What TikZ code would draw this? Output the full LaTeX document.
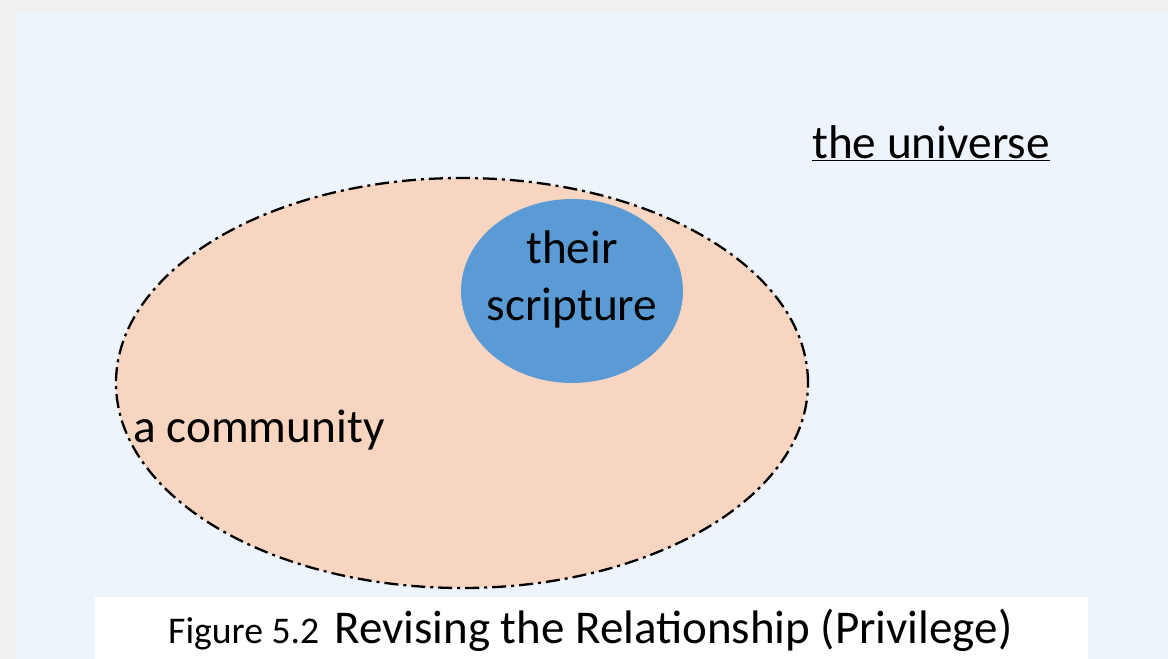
\documentclass[tikz,border=0pt]{standalone}
\usepackage{fontspec}
\setmainfont{Carlito}
\usepackage{tikz}
\usetikzlibrary{shapes.geometric}
\definecolor{paneblue}{HTML}{EEF4FB}
\definecolor{framegray}{HTML}{F0F0F0}
\definecolor{peach}{HTML}{F8D5C0}
\definecolor{scriptblue}{HTML}{5B9BD5}

\tikzset{
  setbox/.style={ellipse, inner sep=0pt},
  bigtext/.style={font=\fontsize{47.3}{52}\selectfont, inner sep=0pt},
  dashdot/.style={draw=black, line width=2.3pt, dash pattern=on 14pt off 5pt on 3pt off 5pt}
}

\begin{document}
\begin{tikzpicture}[x=1pt, y=-1pt]
  \useasboundingbox (0,0) rectangle (1168,659);
  % frame and panel
  \fill[framegray] (0,0) rectangle (1168,659);
  \fill[paneblue] (15,13) rectangle (1168,659);
  \fill[white] (95,597) rectangle (1088,659);

  \node[setbox, dashdot, fill=peach, minimum width=692, minimum height=410] (community) at (462,383) {};
  \node[setbox, fill=scriptblue, minimum width=222, minimum height=184] (scripture) at (572,291) {};
  \node[bigtext, align=center] (scripturetext) at (572,279) {their\\[5pt]scripture};

  \node[bigtext, anchor=west] (communitytext) at (133,430) {a community};
  \node[bigtext, anchor=base west] (universe) at (812,158) {\underline{the universe}};

  % caption
  \node[anchor=base west, inner sep=0pt] (caption) at (168,643)
    {{\fontsize{37.7}{40}\selectfont Figure 5.2}\hspace{15pt}{\fontsize{47}{50}\selectfont Revising the Relationship (Privilege)}};
\end{tikzpicture}
\end{document}
